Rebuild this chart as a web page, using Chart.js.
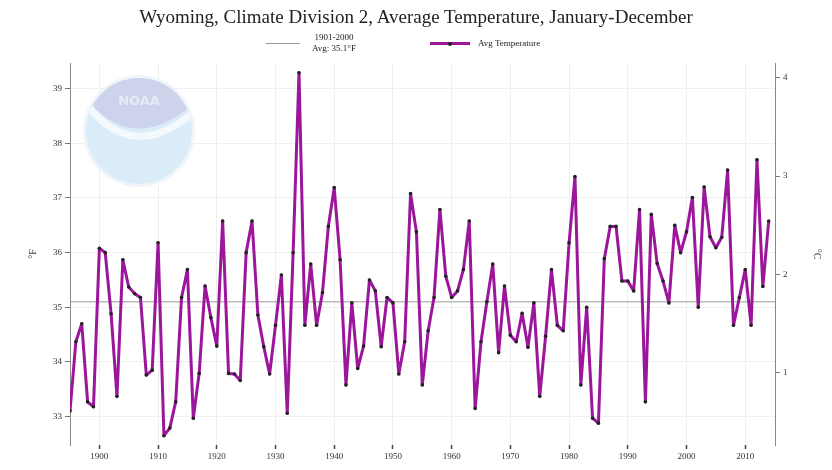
<!DOCTYPE html>
<html>
<head>
<meta charset="utf-8">
<title>Wyoming, Climate Division 2, Average Temperature</title>
<script src="https://cdn.jsdelivr.net/npm/chart.js@4.4.0/dist/chart.umd.min.js"></script>
<style>
  html, body { margin: 0; padding: 0; background: #fff; }
  #wrap { position: relative; width: 832px; height: 470px; }
  #chart { position: absolute; left: 0; top: 0; }
  .txt { position: absolute; font-family: 'Liberation Serif', 'DejaVu Serif', serif; color: #222; white-space: nowrap; }
  #title { left: 0; width: 832px; top: 6px; text-align: center; font-size: 19px; }
  .leg-line { position: absolute; height: 0; }
  .leg-dot { position: absolute; width: 4px; height: 4px; border-radius: 2px; background: #222; }
  .leg-text { font-size: 9px; line-height: 11px; }
</style>
</head>
<body>
<div id="wrap">
  <canvas id="chart" width="832" height="470"></canvas>
  <div id="title" class="txt">Wyoming, Climate Division 2, Average Temperature, January-December</div>
  <div class="leg-line" style="left:266px; top:43px; width:34px; border-top:1px solid #999;"></div>
  <div class="txt leg-text" style="left:312px; top:32px; text-align:center;">1901-2000<br>Avg: 35.1°F</div>
  <div class="leg-line" style="left:430px; top:42px; width:40px; border-top:3px solid #9b169b;"></div>
  <div class="leg-dot" style="left:448px; top:41.5px;"></div>
  <div class="txt leg-text" style="left:478px; top:38px;">Avg Temperature</div>
</div>
<script>
// Données : température moyenne annuelle (°F), 1895-2014
const firstYear = 1895;
const temps = [
  33.10, 34.37, 34.70, 33.27, 33.18, 36.08, 36.00, 34.88, 33.37, 35.87,
  35.37, 35.25, 35.18, 33.76, 33.85, 36.18, 32.65, 32.79, 33.27, 35.18,
  35.69, 32.97, 33.79, 35.39, 34.81, 34.29, 36.58, 33.79, 33.78, 33.66,
  36.00, 36.58, 34.86, 34.28, 33.78, 34.67, 35.59, 33.06, 36.00, 39.29,
  34.67, 35.79, 34.67, 35.27, 36.48, 37.19, 35.87, 33.58, 35.08, 33.88,
  34.29, 35.50, 35.30, 34.28, 35.18, 35.08, 33.78, 34.37, 37.08, 36.38,
  33.58, 34.57, 35.18, 36.79, 35.57, 35.18, 35.30, 35.69, 36.58, 33.15,
  34.37, 35.10, 35.79, 34.17, 35.39, 34.49, 34.37, 34.89, 34.27, 35.08,
  33.37, 34.47, 35.69, 34.67, 34.57, 36.18, 37.39, 33.58, 35.00, 32.97,
  32.88, 35.89, 36.48, 36.48, 35.48, 35.48, 35.30, 36.79, 33.27, 36.70,
  35.80, 35.48, 35.08, 36.50, 36.00, 36.38, 37.01, 35.00, 37.20, 36.29,
  36.09, 36.28, 37.51, 34.67, 35.18, 35.69, 34.67, 37.70, 35.38, 36.58
];
const years = temps.map((_, i) => firstYear + i);
const avgTemp = 35.1;   // moyenne 1901-2000

const xTicks = [1900, 1910, 1920, 1930, 1940, 1950, 1960, 1970, 1980, 1990, 2000, 2010];
const yTicksF = [33, 34, 35, 36, 37, 38, 39];
const yTicksC = [1, 2, 3, 4];

const xMin = 1895, xMax = 2015.07;
const yMinF = 32.48, yMaxF = 39.47;
const toC = f => (f - 32) / 1.8;

const tickFont = { family: "'Liberation Serif', serif", size: 9 };

// Logo NOAA en filigrane
const noaaLogo = {
  id: 'noaaLogo',
  beforeDatasetsDraw(chart) {
    const ctx = chart.ctx;
    const cx = 139, cy = 131, r = 53;
    ctx.save();
    ctx.globalAlpha = 0.9;
    ctx.beginPath();
    ctx.arc(cx, cy, r + 3, 0, Math.PI * 2);
    ctx.fillStyle = '#eef4fa';
    ctx.fill();
    ctx.beginPath();
    ctx.arc(cx, cy, r, 0, Math.PI * 2);
    ctx.fillStyle = '#d8ebf8';
    ctx.fill();
    ctx.clip();
    // partie haute (oiseau)
    ctx.beginPath();
    ctx.moveTo(cx - r - 5, cy - 40);
    ctx.quadraticCurveTo(cx - 10, cy + 30, cx + r + 5, cy - 30);
    ctx.lineTo(cx + r + 5, cy - r - 5);
    ctx.lineTo(cx - r - 5, cy - r - 5);
    ctx.closePath();
    ctx.fillStyle = '#ccd0ea';
    ctx.fill();
    // bande blanche
    ctx.beginPath();
    ctx.moveTo(cx - r - 5, cy - 34);
    ctx.quadraticCurveTo(cx - 8, cy + 38, cx + r + 5, cy - 22);
    ctx.lineWidth = 7;
    ctx.strokeStyle = '#f7fbfe';
    ctx.stroke();
    ctx.fillStyle = '#e9ecf7';
    ctx.font = "bold 13px 'DejaVu Sans', sans-serif";
    ctx.textAlign = 'center';
    ctx.fillText('NOAA', cx, cy - 26);
    ctx.restore();
  }
};

const ctx = document.getElementById('chart');
new Chart(ctx, {
  type: 'line',
  data: {
    datasets: [
      {
        label: 'Avg Temperature',
        data: years.map((y, i) => ({ x: y, y: temps[i] })),
        borderColor: '#9b169b',
        borderWidth: 3,
        borderJoinStyle: 'round',
        pointRadius: 1.8,
        pointBackgroundColor: '#222',
        pointBorderWidth: 0,
        tension: 0,
        order: 0,
        yAxisID: 'y'
      },
      {
        label: '1901-2000 Avg',
        data: [{ x: xMin, y: avgTemp }, { x: xMax, y: avgTemp }],
        borderColor: '#999',
        borderWidth: 1,
        pointRadius: 0,
        order: 1,
        yAxisID: 'y'
      }
    ]
  },
  options: {
    responsive: false,
    animation: false,
    layout: { padding: { top: 63, left: 0, right: 0, bottom: 0 } },
    plugins: {
      legend: { display: false },
      tooltip: { enabled: false }
    },
    scales: {
      x: {
        type: 'linear',
        min: xMin,
        max: xMax,
        afterBuildTicks: s => { s.ticks = xTicks.map(v => ({ value: v })); },
        afterFit: s => { s.height = 25; },
        ticks: { font: tickFont, color: '#333', padding: 2, maxRotation: 0, callback: v => String(v) },
        grid: { color: '#efefef', tickColor: '#444', tickLength: 4, tickWidth: 1.5 },
        border: { display: false }
      },
      y: {
        position: 'left',
        min: yMinF,
        max: yMaxF,
        afterBuildTicks: s => { s.ticks = yTicksF.map(v => ({ value: v })); },
        afterFit: s => { s.width = 70; },
        ticks: { font: tickFont, color: '#333', padding: 3 },
        grid: { color: '#efefef', tickColor: '#777', tickLength: 5 },
        border: { display: true, color: '#888', width: 1 },
        title: { display: true, text: '°F', font: { family: "'Liberation Serif', serif", size: 10 }, color: '#333', padding: { top: 27, bottom: 0 } }
      },
      y2: {
        position: 'right',
        min: toC(yMinF),
        max: toC(yMaxF),
        afterBuildTicks: s => { s.ticks = yTicksC.map(v => ({ value: v })); },
        afterFit: s => { s.width = 57; },
        ticks: { font: tickFont, color: '#333', padding: 3 },
        grid: { drawOnChartArea: false, tickColor: '#777', tickLength: 5 },
        border: { display: true, color: '#888', width: 1 },
        title: { display: true, text: '°C', font: { family: "'Liberation Serif', serif", size: 10 }, color: '#333', padding: { top: 9, bottom: 0 } }
      }
    }
  },
  plugins: [noaaLogo]
});
</script>
</body>
</html>
